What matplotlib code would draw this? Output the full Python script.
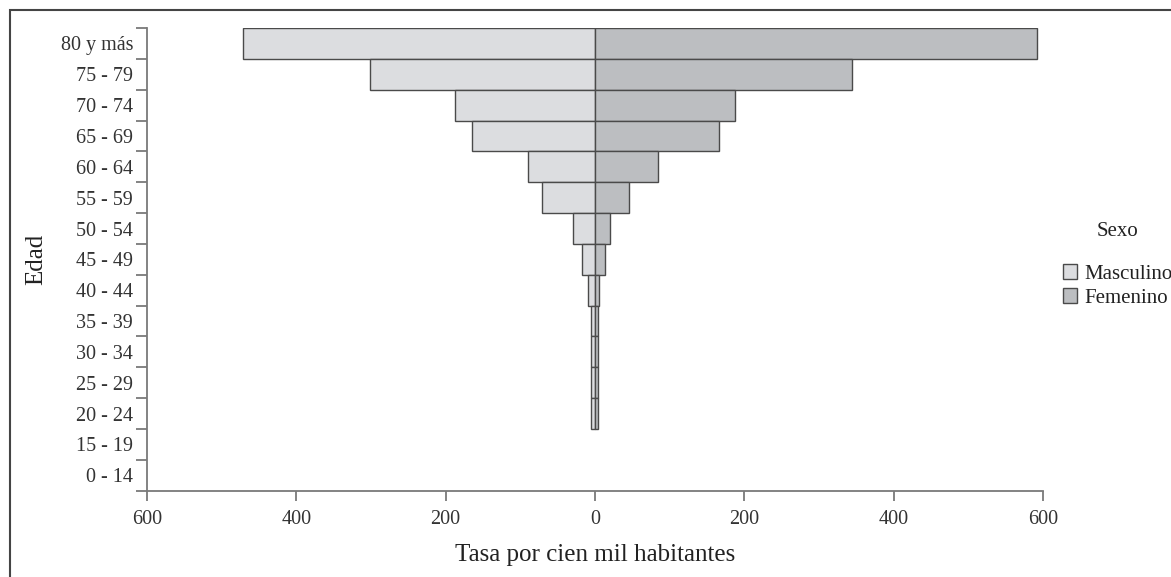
import matplotlib as mpl
import matplotlib.pyplot as plt
import matplotlib.patches as mpatches
import numpy as np

plt.rcParams['font.family'] = ['Liberation Serif', 'DejaVu Serif']

# age groups, top to bottom as in the figure
grupos = ["80 y más", "75 - 79", "70 - 74", "65 - 69", "60 - 64", "55 - 59",
          "50 - 54", "45 - 49", "40 - 44", "35 - 39", "30 - 34", "25 - 29",
          "20 - 24", "15 - 19", "0 - 14"]

# rate per 100k inhabitants
masculino = [472, 301, 187, 165, 90, 71, 30, 18, 9, 5.5, 5.5, 5.5, 5.5, 0, 0]
femenino = [592, 344, 188, 166, 84, 45, 20, 13.5, 6, 3.5, 3.5, 3.5, 3.5, 0, 0]

x_ticks = [-600, -400, -200, 0, 200, 400, 600]
x_ticklabels = ["600", "400", "200", "0", "200", "400", "600"]

col_m = "#dcdde0"
col_f = "#bcbec1"
col_edge = "#4a4a4a"
col_axis = "#7a7a7a"

fig = plt.figure(figsize=(11.71, 5.77), dpi=100)
ax = fig.add_axes([147 / 1171, 1 - 490.7 / 577, (1043 - 147) / 1171, (490.7 - 28) / 577])

n = len(grupos)
# category k (from top) sits between y = n-k-1 and n-k
ypos = np.arange(n)[::-1] + 0.5

m_arr = np.array(masculino)
f_arr = np.array(femenino)
keep_m = m_arr > 0
keep_f = f_arr > 0
ax.barh(ypos[keep_m], -m_arr[keep_m], height=1.0, color=col_m, edgecolor=col_edge, linewidth=1.0)
ax.barh(ypos[keep_f], f_arr[keep_f], height=1.0, color=col_f, edgecolor=col_edge, linewidth=1.0)

ax.set_xlim(-600, 600)
ax.set_ylim(0, n)

ax.spines["top"].set_visible(False)
ax.spines["right"].set_visible(False)
ax.spines["left"].set_color(col_axis)
ax.spines["bottom"].set_color(col_axis)
ax.spines["left"].set_linewidth(1.3)
ax.spines["bottom"].set_linewidth(1.3)

ax.set_xticks(x_ticks)
ax.set_xticklabels(x_ticklabels, fontsize=14.5, color="#333333")
ax.set_yticks(np.arange(n + 1))
ax.set_yticklabels([])
ax.set_yticks(ypos, minor=True)
ax.set_yticklabels(grupos, minor=True, fontsize=14.5, color="#333333")
ax.tick_params(axis="y", which="major", length=8, width=1.3, color=col_axis)
ax.tick_params(axis="y", which="minor", length=0, pad=10)
ax.tick_params(axis="x", which="major", length=7, width=1.3, color=col_axis, pad=7)

ax.set_xlabel("Tasa por cien mil habitantes", fontsize=18, color="#222222", labelpad=11)
ax.set_ylabel("Edad", fontsize=18, color="#222222", labelpad=10)

handles = [mpatches.Patch(facecolor=col_m, edgecolor=col_edge, label="Masculino"),
           mpatches.Patch(facecolor=col_f, edgecolor=col_edge, label="Femenino")]
leg = fig.legend(handles=handles, title="Sexo", loc="upper left",
                 bbox_to_anchor=(1044 / 1171, 1 - 203 / 577), frameon=False,
                 fontsize=15, title_fontsize=15, handlelength=0.7, handleheight=0.7,
                 handletextpad=0.35, labelspacing=0.2)
leg._legend_box.sep = 17
for t in leg.get_texts():
    t.set_color("#222222")
leg.get_title().set_color("#222222")

# outer frame of the original figure (top and left edges visible)
frame = mpatches.Rectangle((10 / 1171, -0.1), 1.2, 1 - 9.5 / 577 + 0.1, transform=fig.transFigure,
                           fill=False, edgecolor="#444444", linewidth=1.5)
fig.patches.append(frame)

fig.savefig("out.png", dpi=100)
